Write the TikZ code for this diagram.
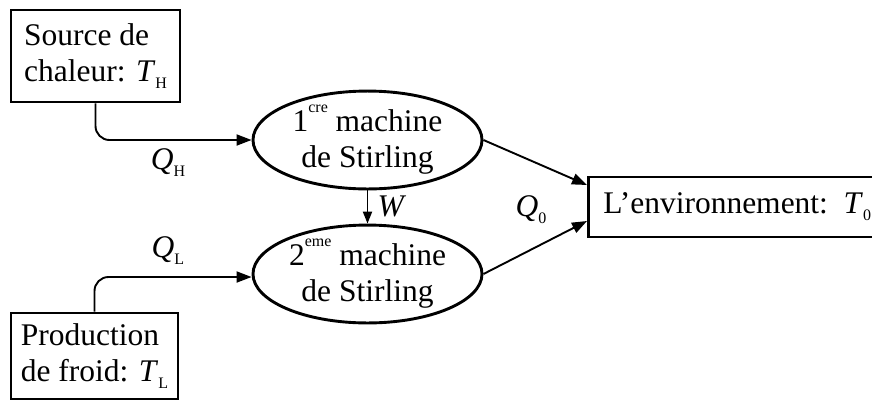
\documentclass[tikz,border=0pt]{standalone}
\usepackage{fontspec}
\setmainfont{Liberation Serif}
\usetikzlibrary{shapes.geometric,arrows.meta,calc}

% upright lowered index after an italic symbol
\newcommand{\lowidx}[1]{\raisebox{-0.22em}{\fontsize{16}{16}\selectfont #1}}
\newcommand{\supidx}[1]{\raisebox{0.6em}{\fontsize{16}{16}\selectfont #1}}

\tikzset{
  txt/.style={font=\fontsize{31.5}{36}\selectfont},
  box/.style={txt, draw, line width=2.8pt, rectangle, inner sep=0pt, align=left},
  machine/.style={txt, draw, line width=2.9pt, ellipse, minimum width=229pt,
    minimum height=96pt, inner sep=0pt, align=center},
  flow/.style={line width=1.9pt, -{Triangle[length=15pt,width=11pt]}},
  lbl/.style={txt, inner sep=0pt},
}

\begin{document}
\begin{tikzpicture}[x=1pt,y=-1pt]
  \clip (0,0) rectangle (872,400);

  % heat source and cold production
  \node[box, minimum width=169pt, minimum height=92pt] (src) at (95.5,56)
    {Source de\\chaleur: \textit{T}\lowidx{H}};
  \node[box, minimum width=167pt, minimum height=86pt] (prod) at (94.5,356)
    {Production\\de froid: \textit{T}\lowidx{L}};

  % the two Stirling machines
  \node[machine] (m1) at (367.5,140) {1\supidx{cre} machine\\de Stirling};
  \node[machine] (m2) at (367.5,274) {2\supidx{eme} machine\\de Stirling};

  % surroundings, running past the right margin
  \node[box, anchor=west, inner xsep=15pt, text width=275pt, minimum height=60pt]
    (env) at (587,207) {L'environnement: \textit{T}\lowidx{0}};

  % heat flows
  \draw[flow, rounded corners=14pt] (src.south) |- (m1.west);
  \draw[flow, rounded corners=14pt] (prod.north) |- ($(m2.west)+(0,3)$);
  \draw[flow, -{Triangle[length=12pt,width=9pt]}] (m1.south) -- (m2.north);
  \draw[flow] (m1.east) -- ($(env.west)+(0,-22)$);
  \draw[flow] (m2.east) -- ($(env.west)+(0,14)$);

  % labels
  \node[lbl] (qh) at (168,163) {\textit{Q}\lowidx{H}};
  \node[lbl] (ql) at (168,251) {\textit{Q}\lowidx{L}};
  \node[lbl] (w)  at (392,206) {\textit{W}};
  \node[lbl] (q0) at (531,210) {\textit{Q}\lowidx{0}};
\end{tikzpicture}
\end{document}
